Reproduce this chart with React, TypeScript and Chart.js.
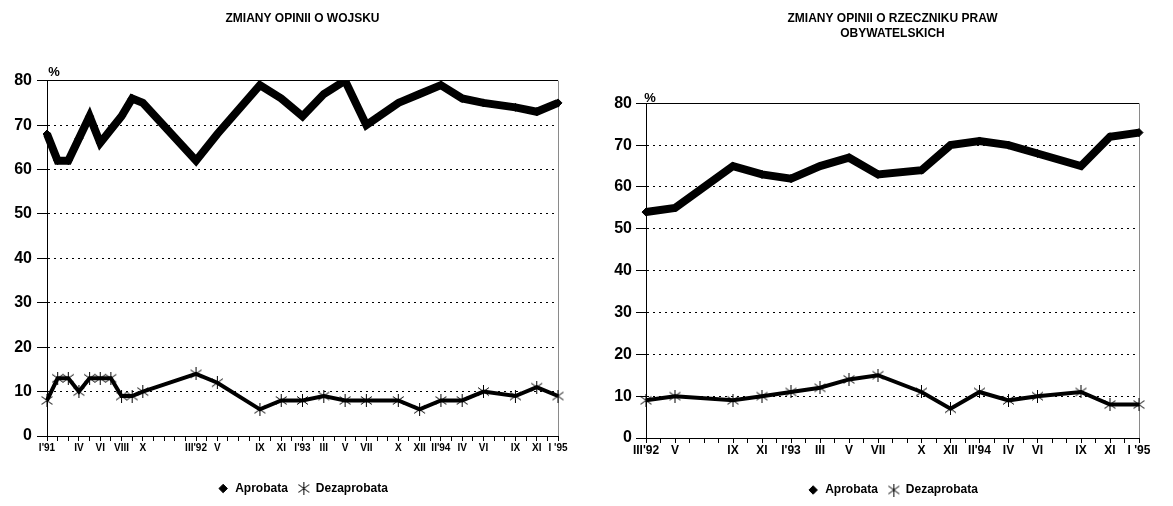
import React, { useEffect, useRef } from "react";
import { Chart, registerables } from "chart.js";

Chart.register(...registerables);

const FONT = "'Liberation Sans', Arial, Helvetica, sans-serif";

const seriesNames = ["Aprobata", "Dezaprobata"];

const leftTitle = "ZMIANY OPINII O WOJSKU";
const rightTitle = ["ZMIANY OPINII O RZECZNIKU PRAW", "OBYWATELSKICH"];

// monthly categories I'91 .. I'95 (only printed labels are non-empty)
const leftMonths = [
  "I'91", "", "", "IV", "", "VI", "", "VIII", "", "X",
  "", "", "", "", "III'92", "", "V", "", "", "",
  "IX", "", "XI", "", "I'93", "", "III", "", "V", "",
  "VII", "", "", "X", "", "XII", "", "II'94", "", "IV",
  "", "VI", "", "", "IX", "", "XI", "", "I '95",
];
const leftAprobata = [
  68, 62, 62, 67, 72, 66, 69, 72, 76, 75,
  null, null, null, null, 62, null, 68, null, null, null,
  79, null, 76, null, 72, null, 77, null, 80, null,
  70, null, null, 75, null, 77, null, 79, null, 76,
  null, 75, null, null, 74, null, 73, null, 75,
];
const leftDezaprobata = [
  8, 13, 13, 10, 13, 13, 13, 9, 9, 10,
  null, null, null, null, 14, null, 12, null, null, null,
  6, null, 8, null, 8, null, 9, null, 8, null,
  8, null, null, 8, null, 6, null, 8, null, 8,
  null, 10, null, null, 9, null, 11, null, 9,
];

// monthly categories III'92 .. I'95
const rightMonths = [
  "III'92", "", "V", "", "", "", "IX", "", "XI", "",
  "I'93", "", "III", "", "V", "", "VII", "", "", "X",
  "", "XII", "", "II'94", "", "IV", "", "VI", "", "",
  "IX", "", "XI", "", "I '95",
];
const rightAprobata = [
  54, null, 55, null, null, null, 65, null, 63, null,
  62, null, 65, null, 67, null, 63, null, null, 64,
  null, 70, null, 71, null, 70, null, 68, null, null,
  65, null, 72, null, 73,
];
const rightDezaprobata = [
  9, null, 10, null, null, null, 9, null, 10, null,
  11, null, 12, null, 14, null, 15, null, null, 11,
  null, 7, null, 11, null, 9, null, 10, null, null,
  11, null, 8, null, 8,
];

const yMin = 0;
const yMax = 80;
const yStep = 10;
const unitLabel = "%";

function makeStar(): HTMLCanvasElement {
  const c = document.createElement("canvas");
  c.width = 13;
  c.height = 13;
  const g = c.getContext("2d")!;
  g.strokeStyle = "#000";
  g.lineWidth = 1;
  g.beginPath();
  g.moveTo(6.5, 0);
  g.lineTo(6.5, 13);
  g.moveTo(1, 2.5);
  g.lineTo(12, 10.5);
  g.moveTo(1, 10.5);
  g.lineTo(12, 2.5);
  g.stroke();
  return c;
}

const framePlugin = {
  id: "frame",
  beforeDatasetsDraw(chart: any) {
    const { ctx, chartArea } = chart;
    const { left, right, top, bottom } = chartArea;
    const al = (p: number) => Math.round(p - 0.5) + 0.5;
    ctx.save();
    ctx.lineWidth = 1;
    ctx.strokeStyle = "#000";
    ctx.beginPath();
    ctx.moveTo(left, al(top));
    ctx.lineTo(right, al(top));
    ctx.stroke();
    ctx.strokeStyle = "#8a8a8a";
    ctx.beginPath();
    ctx.moveTo(al(right), top);
    ctx.lineTo(al(right), bottom);
    ctx.stroke();
    ctx.restore();
  },
  afterDraw(chart: any, _args: any, opts: any) {
    const { ctx, chartArea } = chart;
    ctx.save();
    ctx.fillStyle = "#000";
    ctx.font = `bold 13px ${FONT}`;
    ctx.textAlign = "center";
    ctx.textBaseline = "middle";
    ctx.fillText(unitLabel, chartArea.left + opts.dx, chartArea.top + opts.dy);
    ctx.restore();
  },
};

type Geo = {
  left: number;
  width: number;
  yWidth: number;
  padRight: number;
  padBottom: number;
  titleTop: number;
  titleBottom: number;
  titleLineHeight: number;
  xAxisHeight: number;
  xFont: number;
  xPad: number;
  yPad: number;
  pctDx: number;
  pctDy: number;
};

function LineChart(props: {
  labels: string[];
  a: (number | null)[];
  d: (number | null)[];
  title: string | string[];
  geo: Geo;
}) {
  const ref = useRef<HTMLCanvasElement>(null);
  const { labels, a, d, title, geo } = props;
  useEffect(() => {
    const star = makeStar();
    const chart = new Chart(ref.current!, {
      type: "line",
      data: {
        labels,
        datasets: [
          {
            label: seriesNames[0],
            data: a,
            borderColor: "#000",
            backgroundColor: "#000",
            borderWidth: 8,
            borderJoinStyle: "miter",
            pointStyle: "rectRot",
            pointRadius: 4,
            pointBackgroundColor: "#000",
            pointBorderColor: "#000",
            pointBorderWidth: 1,
            spanGaps: true,
            tension: 0,
          },
          {
            label: seriesNames[1],
            data: d,
            borderColor: "#000",
            backgroundColor: "#000",
            borderWidth: 4,
            borderJoinStyle: "miter",
            pointStyle: star,
            pointRadius: 6,
            pointBorderWidth: 1,
            spanGaps: true,
            tension: 0,
          },
        ],
      },
      options: {
        animation: false,
        responsive: false,
        maintainAspectRatio: false,
        layout: {
          padding: { left: 0, right: geo.padRight, top: 0, bottom: geo.padBottom },
        },
        plugins: {
          title: {
            display: true,
            fullSize: false,
            text: title,
            color: "#000",
            font: { family: FONT, weight: "bold", size: 12, lineHeight: geo.titleLineHeight },
            padding: { top: geo.titleTop, bottom: geo.titleBottom },
          },
          legend: {
            display: true,
            fullSize: false,
            position: "bottom",
            labels: {
              usePointStyle: true,
              boxHeight: 6,
              color: "#000",
              padding: 10,
              font: { family: FONT, weight: "bold", size: 12 },
            },
          },
          tooltip: { enabled: false },
          frame: { dx: geo.pctDx, dy: geo.pctDy },
        } as any,
        scales: {
          x: {
            type: "category",
            offset: false,
            grid: {
              display: true,
              drawOnChartArea: false,
              drawTicks: true,
              tickLength: 5,
              tickColor: "#000",
              tickWidth: 1,
              color: "#000",
            },
            border: { display: true, color: "#000", width: 1 },
            ticks: {
              autoSkip: false,
              maxRotation: 0,
              minRotation: 0,
              color: "#000",
              padding: geo.xPad,
              font: { family: FONT, weight: "bold", size: geo.xFont },
            },
            afterFit: (s: any) => {
              s.height = geo.xAxisHeight;
            },
          },
          y: {
            min: yMin,
            max: yMax,
            grid: {
              color: "#000",
              lineWidth: 1,
              drawTicks: true,
              tickLength: 10,
              tickColor: "#000",
              tickBorderDash: [],
            },
            border: { display: true, color: "#000", width: 1, dash: [2, 4] },
            ticks: {
              stepSize: yStep,
              color: "#000",
              padding: geo.yPad,
              font: { family: FONT, weight: "bold", size: 16 },
            },
            afterFit: (s: any) => {
              s.width = geo.yWidth;
            },
          },
        },
      } as any,
      plugins: [framePlugin as any],
    });
    return () => chart.destroy();
  }, []);
  return (
    <canvas
      ref={ref}
      width={geo.width}
      height={506}
      style={{ position: "absolute", left: geo.left, top: 0, width: geo.width, height: 506 }}
    />
  );
}

const leftGeo: Geo = {
  left: 0,
  width: 590,
  yWidth: 47,
  padRight: 32,
  padBottom: 1.5,
  titleTop: 11.3,
  titleBottom: 55,
  titleLineHeight: 1.2,
  xAxisHeight: 36.5,
  xFont: 10,
  xPad: 1,
  yPad: 5,
  pctDx: 7,
  pctDy: -8,
};

const rightGeo: Geo = {
  left: 590,
  width: 583,
  yWidth: 56,
  padRight: 34,
  padBottom: 0,
  titleTop: 11,
  titleBottom: 62.3,
  titleLineHeight: 1.25,
  xAxisHeight: 36,
  xFont: 12,
  xPad: 0,
  yPad: 4,
  pctDx: 4,
  pctDy: -4.5,
};

export default function App() {
  return (
    <div style={{ position: "absolute", left: 0, top: 0, width: 1173, height: 506, background: "#fff" }}>
      <LineChart labels={leftMonths} a={leftAprobata} d={leftDezaprobata} title={leftTitle} geo={leftGeo} />
      <LineChart labels={rightMonths} a={rightAprobata} d={rightDezaprobata} title={rightTitle} geo={rightGeo} />
    </div>
  );
}
